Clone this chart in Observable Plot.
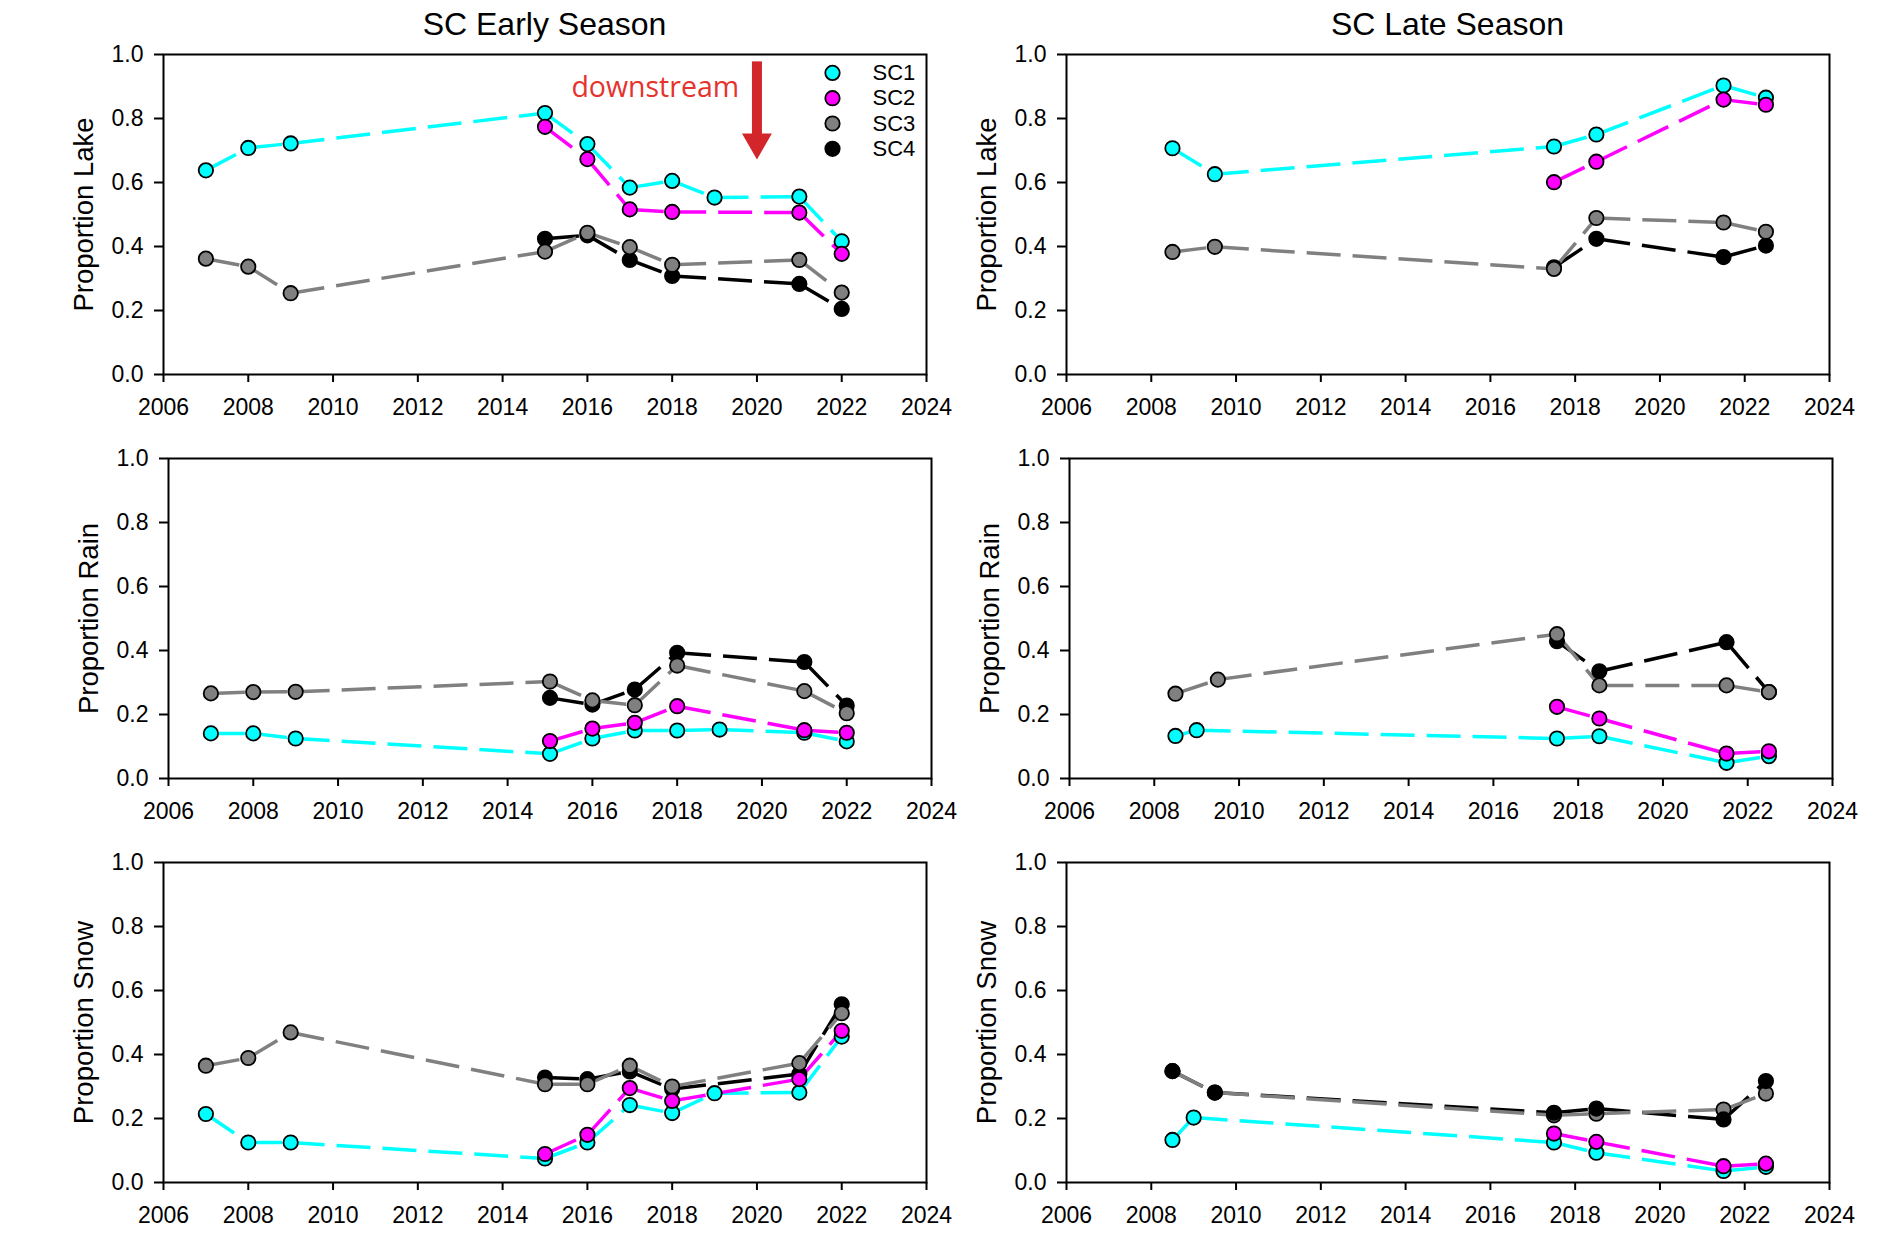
<!DOCTYPE html>
<html><head><meta charset="utf-8">
<script src="https://cdn.jsdelivr.net/npm/d3@7"></script>
<script src="https://cdn.jsdelivr.net/npm/@observablehq/plot@0.6"></script>
<style>
body{margin:0;background:#fff;}
#root{position:relative;width:1890px;height:1252px;background:#fff;overflow:hidden;font-family:"Liberation Sans",Arial,sans-serif;}
.panel{position:absolute;}
.title{position:absolute;font-size:32px;line-height:32px;text-align:center;color:#000;white-space:nowrap;}
</style></head><body><div id="root"></div><script>
// ---------- data ----------
const seriesNames = ["SC1", "SC2", "SC3", "SC4"];
const seriesColors = ["#00FFFF", "#FF00FF", "#808080", "#000000"];
const xTicks = [2006, 2008, 2010, 2012, 2014, 2016, 2018, 2020, 2022, 2024];
const yTicks = [0, 0.2, 0.4, 0.6, 0.8, 1.0];

// Early season sampling years
const earlyYearsSC1 = [2007, 2008, 2009, 2015, 2016, 2017, 2018, 2019, 2021, 2022];
const earlyYearsSC2 = [2015, 2016, 2017, 2018, 2021, 2022];
const earlyYearsSC3 = [2007, 2008, 2009, 2015, 2016, 2017, 2018, 2021, 2022];
const earlyYearsSC4 = [2015, 2016, 2017, 2018, 2021, 2022];

// Late season sampling years
const lateLakeYearsSC1 = [2008.5, 2009.5, 2017.5, 2018.5, 2021.5, 2022.5];
const lateOtherYearsSC1 = [2008.5, 2009, 2017.5, 2018.5, 2021.5, 2022.5];
const lateYearsSC2 = [2017.5, 2018.5, 2021.5, 2022.5];
const lateYearsSC3 = [2008.5, 2009.5, 2017.5, 2018.5, 2021.5, 2022.5];
const lateYearsSC4 = [2017.5, 2018.5, 2021.5, 2022.5];
const lateSnowYearsSC4 = [2008.5, 2009.5, 2017.5, 2018.5, 2021.5, 2022.5];

// Early season values
const earlyLakeSC1 = [0.638, 0.708, 0.722, 0.817, 0.720, 0.584, 0.605, 0.553, 0.556, 0.416];
const earlyLakeSC2 = [0.774, 0.673, 0.516, 0.508, 0.506, 0.377];
const earlyLakeSC3 = [0.362, 0.337, 0.254, 0.384, 0.443, 0.398, 0.343, 0.358, 0.256];
const earlyLakeSC4 = [0.424, 0.435, 0.358, 0.308, 0.283, 0.205];

const earlyRainSC1 = [0.141, 0.141, 0.125, 0.077, 0.125, 0.150, 0.150, 0.153, 0.143, 0.116];
const earlyRainSC2 = [0.117, 0.156, 0.174, 0.226, 0.151, 0.143];
const earlyRainSC3 = [0.266, 0.270, 0.271, 0.303, 0.244, 0.229, 0.353, 0.273, 0.204];
const earlyRainSC4 = [0.252, 0.231, 0.278, 0.393, 0.364, 0.228];

const earlySnowSC1 = [0.214, 0.125, 0.125, 0.075, 0.125, 0.242, 0.217, 0.279, 0.281, 0.456];
const earlySnowSC2 = [0.089, 0.149, 0.295, 0.255, 0.323, 0.474];
const earlySnowSC3 = [0.365, 0.389, 0.469, 0.307, 0.307, 0.365, 0.300, 0.373, 0.529];
const earlySnowSC4 = [0.328, 0.323, 0.347, 0.292, 0.339, 0.557];

// Late season values
const lateLakeSC1 = [0.707, 0.626, 0.7125, 0.750, 0.903, 0.865];
const lateLakeSC2 = [0.601, 0.665, 0.859, 0.843];
const lateLakeSC3 = [0.383, 0.399, 0.330, 0.489, 0.475, 0.446];
const lateLakeSC4 = [0.335, 0.424, 0.367, 0.403];

const lateRainSC1 = [0.133, 0.151, 0.125, 0.132, 0.049, 0.070];
const lateRainSC2 = [0.224, 0.1875, 0.078, 0.085];
const lateRainSC3 = [0.265, 0.309, 0.451, 0.291, 0.291, 0.270];
const lateRainSC4 = [0.429, 0.335, 0.426, 0.270];

const lateSnowSC1 = [0.133, 0.203, 0.125, 0.093, 0.036, 0.049];
const lateSnowSC2 = [0.153, 0.127, 0.051, 0.059];
const lateSnowSC3 = [0.348, 0.281, 0.210, 0.215, 0.228, 0.278];
const lateSnowSC4 = [0.348, 0.281, 0.218, 0.231, 0.197, 0.317];

// annotation (data units)
const noteText = "downstream";
const noteAt = {x: 2019.58, y: 0.868};
const arrowAt = {x: 2020, y1: 0.977, y2: 0.745, headY: 0.726};

// ---------- layout ----------
const W = 763, H = 320, ML = 110, MR = 20, MT = 20, MB = 60;
const FONT = '"Liberation Sans", Arial, Helvetica, sans-serif';
const RED_TEXT = "#e5332e", RED_ARROW = "#d3262b";

const panels = [
  {label: "Proportion Lake", left: 163, top: 54, title: "SC Early Season", legend: true,
   data: [[earlyYearsSC1, earlyLakeSC1], [earlyYearsSC2, earlyLakeSC2], [earlyYearsSC3, earlyLakeSC3], [earlyYearsSC4, earlyLakeSC4]]},
  {label: "Proportion Lake", left: 1066, top: 54, title: "SC Late Season",
   data: [[lateLakeYearsSC1, lateLakeSC1], [lateYearsSC2, lateLakeSC2], [lateYearsSC3, lateLakeSC3], [lateYearsSC4, lateLakeSC4]]},
  {label: "Proportion Rain", left: 168, top: 458,
   data: [[earlyYearsSC1, earlyRainSC1], [earlyYearsSC2, earlyRainSC2], [earlyYearsSC3, earlyRainSC3], [earlyYearsSC4, earlyRainSC4]]},
  {label: "Proportion Rain", left: 1069, top: 458,
   data: [[lateOtherYearsSC1, lateRainSC1], [lateYearsSC2, lateRainSC2], [lateYearsSC3, lateRainSC3], [lateYearsSC4, lateRainSC4]]},
  {label: "Proportion Snow", left: 163, top: 862,
   data: [[earlyYearsSC1, earlySnowSC1], [earlyYearsSC2, earlySnowSC2], [earlyYearsSC3, earlySnowSC3], [earlyYearsSC4, earlySnowSC4]]},
  {label: "Proportion Snow", left: 1066, top: 862, dotOrder: [2, 3, 0, 1],
   data: [[lateOtherYearsSC1, lateSnowSC1], [lateYearsSC2, lateSnowSC2], [lateYearsSC3, lateSnowSC3], [lateSnowYearsSC4, lateSnowSC4]]}
];

const downTriangle = {
  draw(ctx, size) {
    const y = Math.sqrt(size / (Math.sqrt(3) * 3));
    ctx.moveTo(0, 2 * y);
    ctx.lineTo(-Math.sqrt(3) * y, -y);
    ctx.lineTo(Math.sqrt(3) * y, -y);
    ctx.closePath();
  }
};

const root = document.getElementById("root");
const DOT_R = 7.2, DOT_SW = 1.8, LINE_W = 3.5;

function build(p) {
  const lineOrder = [3, 2, 0, 1];
  const dotOrder = p.dotOrder || [3, 2, 0, 1];
  const marks = [
    Plot.frame({stroke: "black", strokeWidth: 2}),
    Plot.axisX(xTicks, {tickFormat: "d", tickSize: 8, tickPadding: 16, fontSize: 23, strokeWidth: 2, label: null}),
    Plot.axisY(yTicks, {tickFormat: ".1f", tickSize: 9, tickPadding: 11, fontSize: 23, strokeWidth: 2, label: null}),
    Plot.text([p.label], {frameAnchor: "left", text: d => d, rotate: -90, dx: -79, fontSize: 27.5, textAnchor: "middle", lineAnchor: "middle"})
  ];
  for (const k of lineOrder) {
    const [yrs, vals] = p.data[k];
    const segs = [];
    for (let i = 0; i < yrs.length - 1; i++) segs.push({x1: yrs[i], y1: vals[i], x2: yrs[i + 1], y2: vals[i + 1]});
    marks.push(Plot.link(segs, {x1: "x1", y1: "y1", x2: "x2", y2: "y2", stroke: seriesColors[k], strokeWidth: LINE_W, strokeDasharray: "34,12"}));
  }
  for (const k of dotOrder) {
    const [yrs, vals] = p.data[k];
    const pts = yrs.map((x, i) => ({x, y: vals[i]}));
    marks.push(Plot.dot(pts, {x: "x", y: "y", r: DOT_R, fill: seriesColors[k], stroke: "black", strokeWidth: DOT_SW}));
  }
  if (p.legend) {
    seriesNames.forEach((s, i) => {
      marks.push(Plot.dot([s], {frameAnchor: "top-right", dx: -94, dy: 18.4 + 25.3 * i, r: DOT_R, fill: seriesColors[i], stroke: "black", strokeWidth: DOT_SW}));
      marks.push(Plot.text([s], {frameAnchor: "top-right", dx: -54, dy: 18.4 + 25.3 * i, text: d => d, textAnchor: "start", lineAnchor: "middle", fontSize: 22}));
    });
    marks.push(Plot.text([noteText], {x: () => noteAt.x, y: () => noteAt.y, text: d => d, textAnchor: "end", lineAnchor: "bottom", fill: RED_TEXT, fontSize: 28.5, fontFamily: '"Open Sans", "Noto Sans", sans-serif'}));
    marks.push(Plot.ruleX([arrowAt], {x: "x", y1: "y1", y2: "y2", stroke: RED_ARROW, strokeWidth: 10}));
    marks.push(Plot.dot([arrowAt], {x: "x", y: "headY", symbol: downTriangle, r: 11.1, fill: RED_ARROW, stroke: "none"}));
  }
  const svg = Plot.plot({
    width: ML + W + MR, height: MT + H + MB,
    marginLeft: ML, marginRight: MR, marginTop: MT, marginBottom: MB,
    x: {domain: [2006, 2024]},
    y: {domain: [0, 1]},
    style: {fontFamily: FONT, fontSize: "22px", color: "black", background: "transparent", overflow: "visible"},
    marks
  });
  const wrap = document.createElement("div");
  wrap.className = "panel";
  wrap.style.left = (p.left - ML) + "px";
  wrap.style.top = (p.top - MT) + "px";
  wrap.appendChild(svg);
  root.appendChild(wrap);
  if (p.title) {
    const t = document.createElement("div");
    t.className = "title";
    t.textContent = p.title;
    t.style.left = p.left + "px";
    t.style.width = W + "px";
    t.style.top = "8px";
    root.appendChild(t);
  }
}
panels.forEach(build);
</script></body></html>
